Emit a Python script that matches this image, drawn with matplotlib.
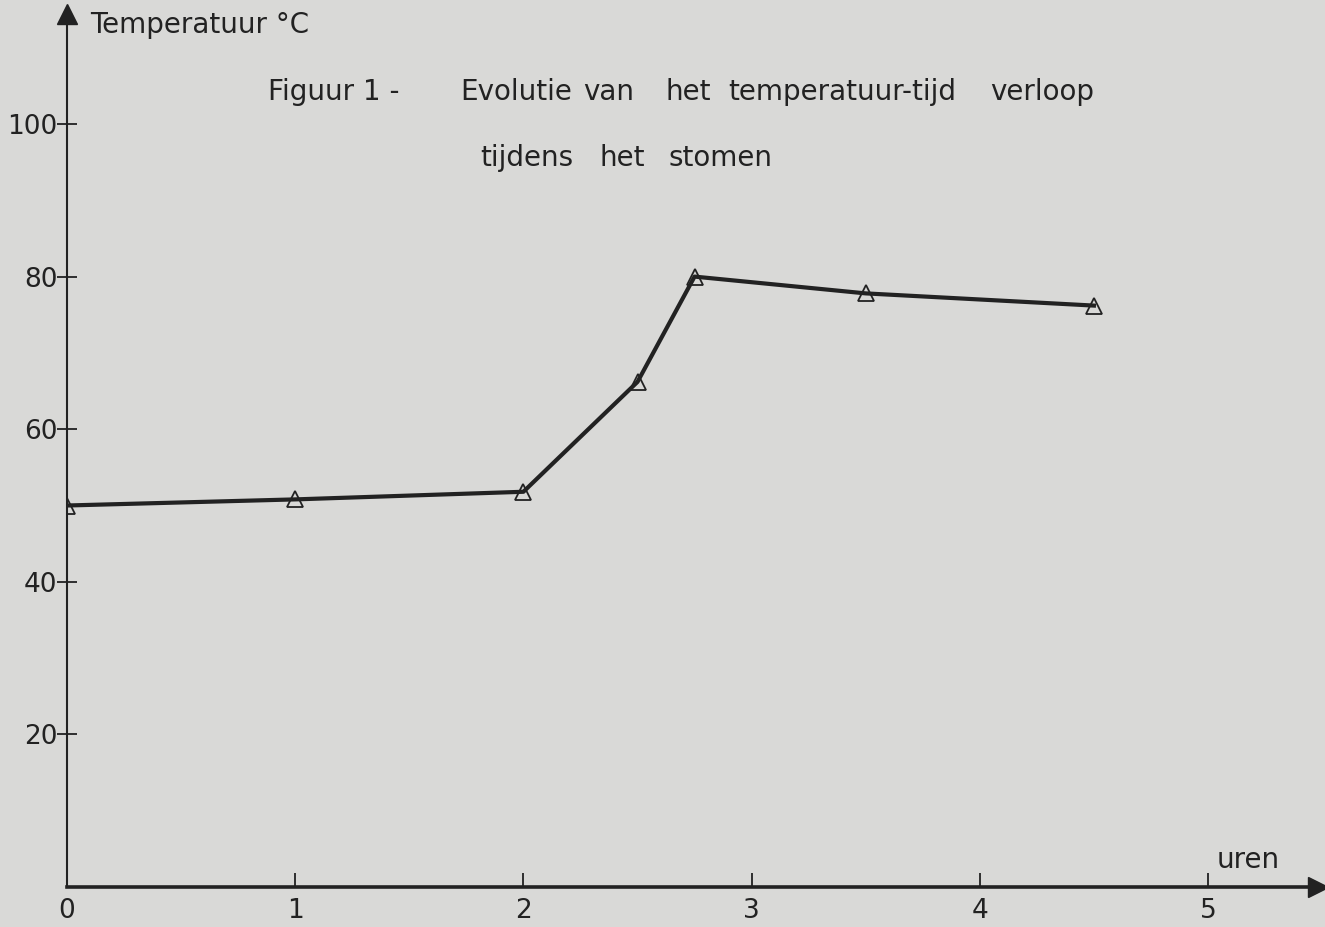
import matplotlib
matplotlib.use("Agg")
import matplotlib.pyplot as plt

# Data
hours = [0, 1, 2, 2.5, 2.75, 3.5, 4.5]
temperature = [50.0, 50.8, 51.8, 66.2, 80.0, 77.8, 76.2]
x_ticks = [0, 1, 2, 3, 4, 5]
y_ticks = [20, 40, 60, 80, 100]

BG = "#d9d9d7"
INK = "#222222"

W, H = 1325, 927
fig = plt.figure(figsize=(W / 100, H / 100), dpi=100, facecolor=BG)
x0, x1 = 67, 1318
y0, y1 = 887, 14
ax = fig.add_axes([x0 / W, 1 - y0 / H, (x1 - x0) / W, (y0 - y1) / H])
ax.set_facecolor(BG)
px_per_x = (1208 - 67) / 5
px_per_y = (887 - 124) / 100
ax.set_xlim(0, (x1 - x0) / px_per_x)
ax.set_ylim(0, (y0 - y1) / px_per_y)

for s in ["top", "right"]:
    ax.spines[s].set_visible(False)
ax.spines["left"].set_color(INK)
ax.spines["bottom"].set_color(INK)
ax.spines["left"].set_linewidth(1.5)
ax.spines["bottom"].set_linewidth(2.6)

# arrow heads
ax.plot(1, 0, marker=">", color=INK, markersize=14, transform=ax.transAxes, clip_on=False)
ax.plot(0, 1, marker="^", color=INK, markersize=14, transform=ax.transAxes, clip_on=False)

ax.set_xticks(x_ticks)
ax.set_yticks(y_ticks)
ax.set_xticklabels([str(v) for v in x_ticks])
ax.set_yticklabels([str(v) for v in y_ticks])
ax.tick_params(axis="x", direction="in", length=10, width=1.3, color=INK,
               labelsize=19, labelcolor=INK, pad=8)
ax.tick_params(axis="y", direction="inout", length=14, width=1.3, color=INK,
               labelsize=19, labelcolor=INK, pad=0)

ax.plot(hours, temperature, color=INK, linewidth=3, zorder=3)
ax.plot(hours, temperature, linestyle="none", marker="^", markersize=12,
        markerfacecolor="none", markeredgecolor=INK, markeredgewidth=1.3, zorder=4)

fs = 20
fig.text(90 / W, 1 - 25 / H, "Temperatuur °C", fontsize=fs, color=INK, ha="left", va="center")
fig.text(268 / W, 1 - 92 / H, "Figuur 1 -", fontsize=fs, color=INK, ha="left", va="center")
title_words = [("Evolutie", 460), ("van", 583), ("het", 665), ("temperatuur-tijd", 728), ("verloop", 990)]
for w, xp in title_words:
    fig.text(xp / W, 1 - 92 / H, w, fontsize=fs, color=INK, ha="left", va="center")
sub_words = [("tijdens", 480), ("het", 600), ("stomen", 668)]
for w, xp in sub_words:
    fig.text(xp / W, 1 - 158 / H, w, fontsize=fs, color=INK, ha="left", va="center")
fig.text(1248 / W, 1 - 860 / H, "uren", fontsize=fs, color=INK, ha="center", va="center")

fig.savefig("out.png", dpi=100, facecolor=BG)
